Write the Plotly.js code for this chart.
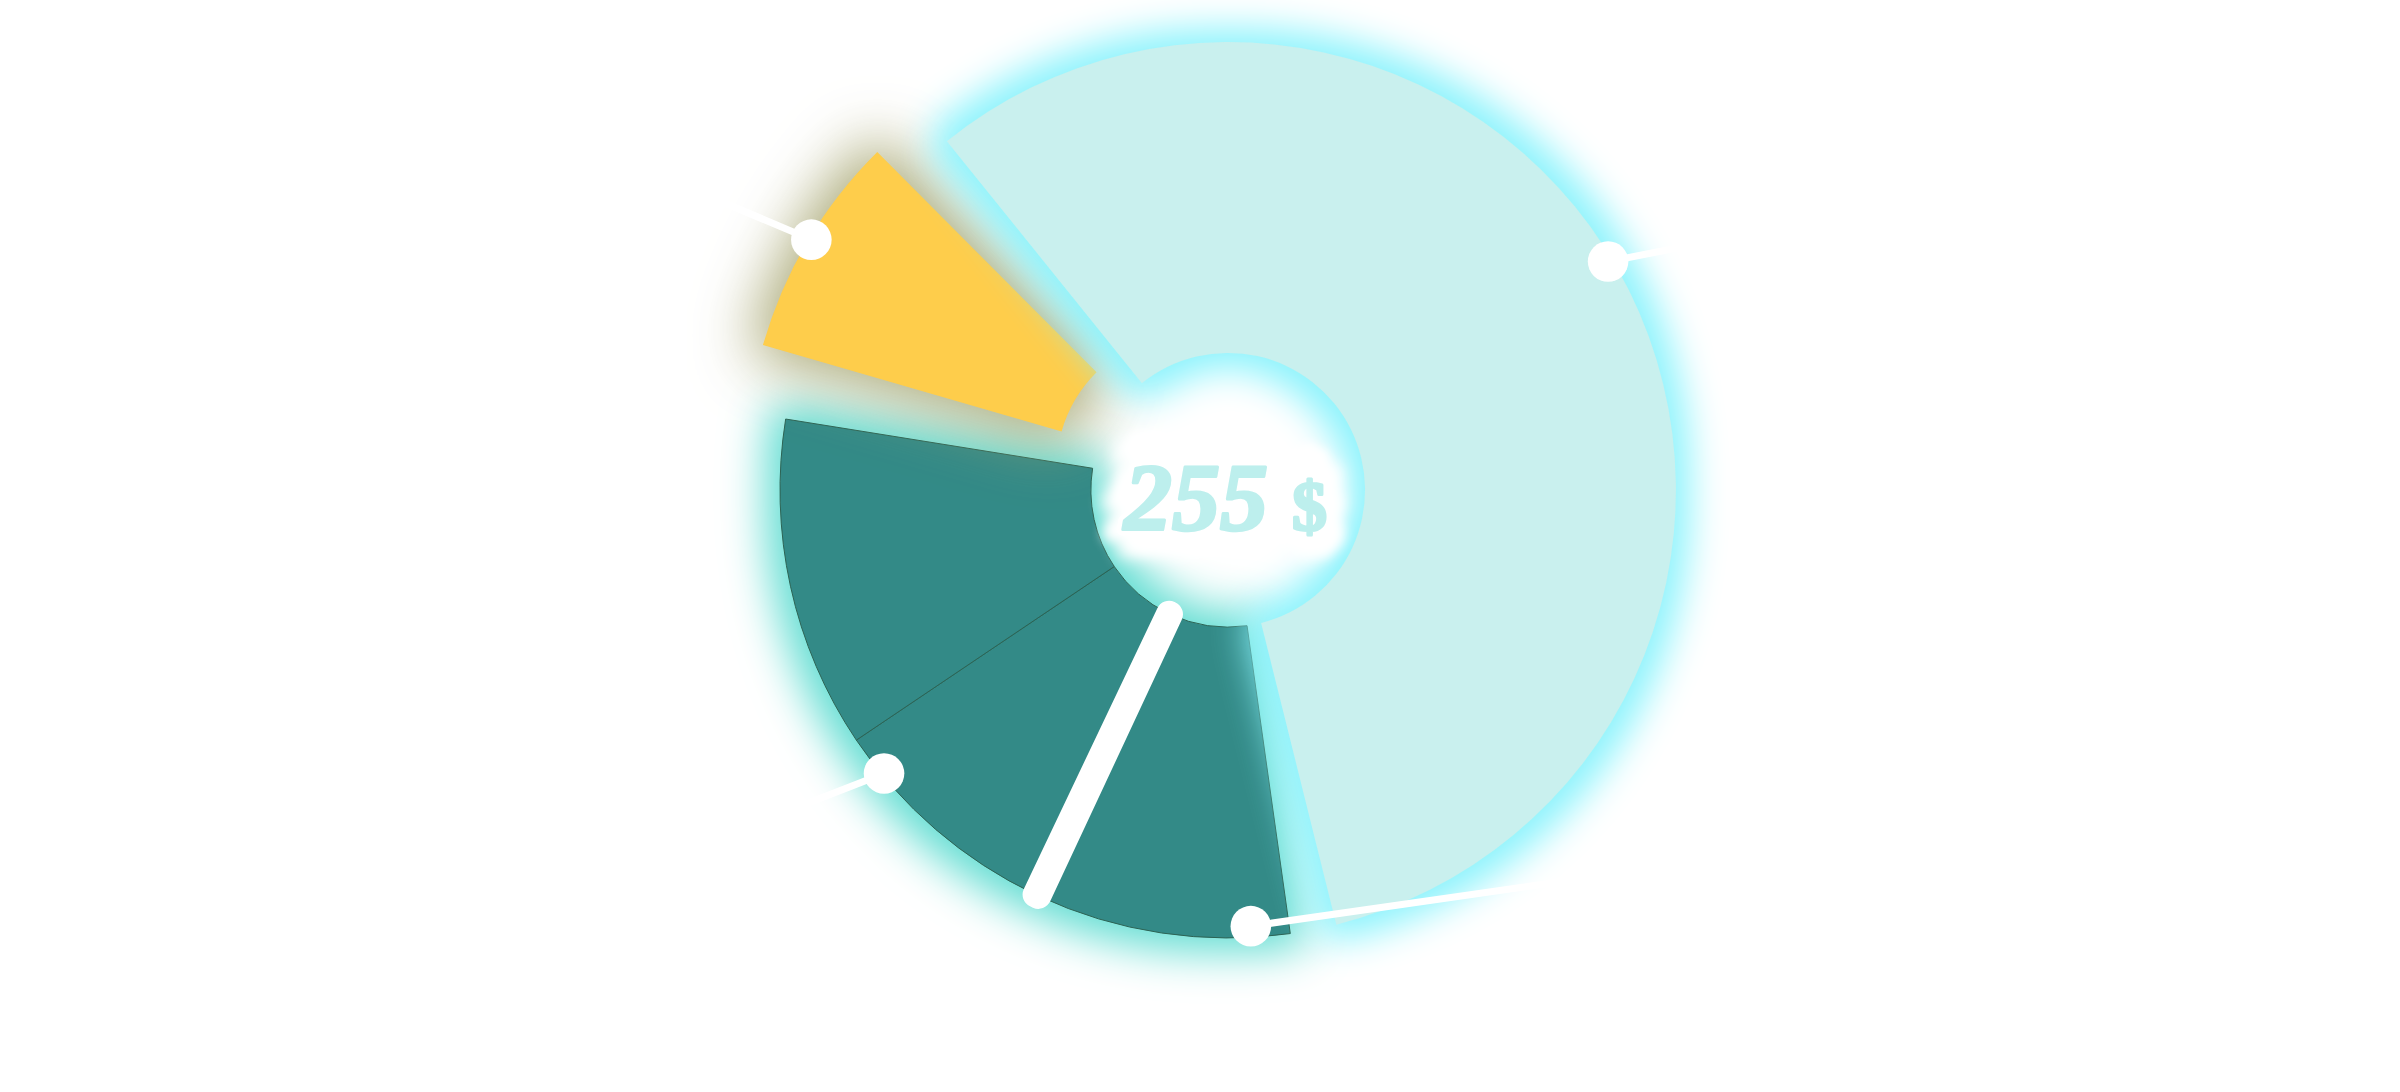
<!DOCTYPE html>
<html>
<head>
<meta charset="utf-8">
<script src="https://cdn.plot.ly/plotly-3.0.1.min.js"></script>
<style>
  html, body { margin: 0; padding: 0; background: #fff; }
  #chart { width: 2400px; height: 1092px; }
</style>
</head>
<body>
<svg width="0" height="0" style="position:absolute">
  <defs>
    <filter id="glow-aqua" x="-20%" y="-20%" width="140%" height="140%" color-interpolation-filters="sRGB">
      <feMorphology in="SourceAlpha" operator="dilate" radius="14" result="grow"/>
      <feGaussianBlur in="grow" stdDeviation="18" result="soft"/>
      <feFlood flood-color="#8cf3fc"/>
      <feComposite in2="soft" operator="in" result="halo"/>
      <feMerge><feMergeNode in="halo"/><feMergeNode in="SourceGraphic"/></feMerge>
    </filter>
    <filter id="glow-teal" x="-20%" y="-20%" width="140%" height="140%" color-interpolation-filters="sRGB">
      <feMorphology in="SourceAlpha" operator="dilate" radius="14" result="grow"/>
      <feGaussianBlur in="grow" stdDeviation="22" result="soft"/>
      <feFlood flood-color="#62ddd2"/>
      <feComposite in2="soft" operator="in" result="halo"/>
      <feMerge><feMergeNode in="halo"/><feMergeNode in="SourceGraphic"/></feMerge>
    </filter>
    <filter id="glow-yellow" x="-40%" y="-40%" width="180%" height="180%" color-interpolation-filters="sRGB">
      <feMorphology in="SourceAlpha" operator="dilate" radius="10" result="grow"/>
      <feGaussianBlur in="grow" stdDeviation="30" result="soft"/>
      <feFlood flood-color="#a3a26c" flood-opacity="0.9"/>
      <feComposite in2="soft" operator="in" result="halo"/>
      <feMerge><feMergeNode in="halo"/><feMergeNode in="SourceGraphic"/></feMerge>
    </filter>
  </defs>
</svg>
<div id="chart"></div>
<script>
// slices, clockwise, in $ (total 255)
const sliceLabels = ['Teal A', 'Split', 'Teal B', 'Teal C', 'Yellow', 'Aqua'];
const sliceValues = [24.7, 0.3, 22.9, 32.2, 21.7, 153.2];
const sliceKinds = ['teal', 'split', 'teal', 'teal', 'yellow', 'aqua'];
const slicePull = [0, 0, 0, 0, 0.09, 0];
const totalText = '255';
const currencyText = '$';

// pointer dots: angle clockwise from 12 o'clock, radius in pie radii
const pointerAngles = [301, 59, 230.5, 177];
const pointerRadii = [1.085, 0.99, 0.995, 0.975];

const W = 2400;
const H = 1092;
const target = document.getElementById('chart');

// empty wedge (degrees) left after each slice, filled only by the glow
const gapAfter = [0, 0, 0, 7, 6, 6];

const kindColor = { teal: '#338a87', yellow: '#fecd4b', aqua: '#c9f0ee', split: '#ffffff' };
const kindGlow = { teal: 'url(#glow-teal)', yellow: 'url(#glow-yellow)', aqua: 'url(#glow-aqua)', split: 'none' };

const total = sliceValues.reduce((a, b) => a + b, 0);
const perDeg = total / (360 - gapAfter.reduce((a, b) => a + b, 0));
const labels = [];
const values = [];
const kinds = [];
const pulls = [];
sliceValues.forEach((v, i) => {
  labels.push(sliceLabels[i]);
  values.push(v);
  kinds.push(sliceKinds[i]);
  pulls.push(slicePull[i]);
  if (gapAfter[i]) {
    labels.push('gap ' + i);
    values.push(gapAfter[i] * perDeg);
    kinds.push('gap');
    pulls.push(0);
  }
});

const pieDomain = { x: [0.3082, 0.7151], y: [0.1041, 0.9985] };
const maxPull = Math.max(...slicePull);
const cx = W * (pieDomain.x[0] + pieDomain.x[1]) / 2;
const cy = H * (1 - (pieDomain.y[0] + pieDomain.y[1]) / 2);
const radius = Math.min(W * (pieDomain.x[1] - pieDomain.x[0]),
  H * (pieDomain.y[1] - pieDomain.y[0])) / 2 / (1 + maxPull);

const clear = 'rgba(0,0,0,0)';
const layerOrder = ['teal', 'yellow', 'aqua', 'split'];

function layerTrace(kind) {
  return {
    type: 'pie',
    labels: labels,
    values: values,
    sort: false,
    direction: 'clockwise',
    rotation: 172,
    hole: 0.306,
    pull: pulls,
    textinfo: 'none',
    hoverinfo: 'skip',
    showlegend: false,
    domain: pieDomain,
    marker: {
      colors: kinds.map(k => k === kind ? kindColor[kind] : clear),
      line: {
        color: kinds.map(k => k !== kind ? clear : kind === 'teal' ? '#2d6354' : kind === 'split' ? '#ffffff' : clear),
        width: kinds.map(k => k !== kind ? 0 : kind === 'teal' ? 1 : kind === 'split' ? 26 : 0)
      }
    }
  };
}

const tails = [[-300, -127], [300, -59], [-300, 117], [460, -66]];
const pointers = pointerAngles.map((a, i) => {
  const t = a * Math.PI / 180;
  const r = pointerRadii[i] * radius;
  return {
    xref: 'paper', yref: 'paper',
    x: (cx + r * Math.sin(t)) / W,
    y: 1 - (cy - r * Math.cos(t)) / H,
    text: '',
    showarrow: true,
    arrowhead: 6,
    arrowsize: 1.45,
    arrowwidth: 7,
    arrowcolor: '#ffffff',
    standoff: 0,
    ax: tails[i][0],
    ay: tails[i][1]
  };
});

const labelText = '<i>' + totalText + '</i> <span style="font-size:70px">' + currencyText + '</span>';
const labelPos = { xref: 'paper', yref: 'paper', x: (cx - 3) / W, y: 1 - (cy + 8) / H, xanchor: 'center', yanchor: 'middle', showarrow: false };
const labelFamily = 'Liberation Serif, Times New Roman, serif';

// white puffy backing behind the total, then the total itself
const cloudLabel = Object.assign({}, labelPos, {
  text: labelText,
  font: { family: labelFamily, size: 96, color: '#ffffff', weight: 'bold' }
});
const centerLabel = Object.assign({}, labelPos, {
  text: labelText,
  font: { family: labelFamily, size: 96, color: '#bdefed', weight: 'bold' }
});

const layout = {
  width: W,
  height: H,
  margin: { l: 0, r: 0, t: 0, b: 0 },
  paper_bgcolor: '#ffffff',
  plot_bgcolor: '#ffffff',
  showlegend: false,
  annotations: [cloudLabel, centerLabel].concat(pointers)
};

Plotly.newPlot(target, layerOrder.map(layerTrace), layout, { displayModeBar: false, staticPlot: true })
  .then(() => {
    target.querySelectorAll('.pielayer .trace').forEach((g, k) => {
      g.style.filter = kindGlow[layerOrder[k]];
    });
    const cloud = target.querySelector('.annotation[data-index="0"] .annotation-text');
    if (cloud) {
      cloud.style.stroke = '#ffffff';
      cloud.style.strokeWidth = '12px';
      cloud.style.strokeLinejoin = 'round';
      cloud.style.filter = 'drop-shadow(0 -30px 5px #fff) drop-shadow(14px 16px 6px #fff) drop-shadow(-14px 6px 6px #fff)';
    }
    const totalLabel = target.querySelector('.annotation[data-index="1"] .annotation-text');
    if (totalLabel) {
      totalLabel.style.stroke = '#bdefed';
      totalLabel.style.strokeWidth = '3px';
      totalLabel.style.strokeLinejoin = 'round';
    }
  });
</script>
</body>
</html>
